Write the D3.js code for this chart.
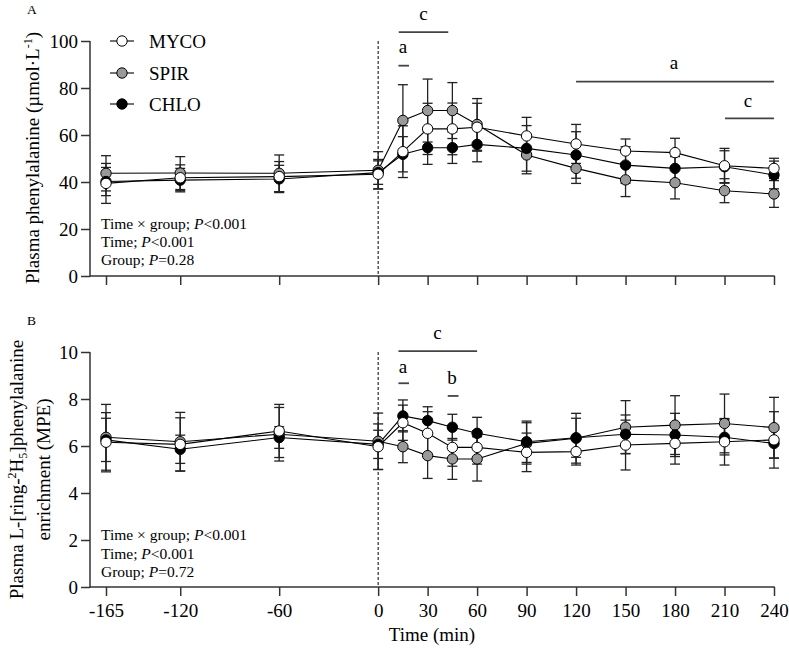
<!DOCTYPE html>
<html><head><meta charset="utf-8">
<script src="https://cdn.jsdelivr.net/npm/d3@7"></script>
<style>
html,body{margin:0;padding:0;background:#fff;}
svg text{font-family:"Liberation Serif","Times New Roman",serif;fill:#000;}
</style></head>
<body><svg id="chart" width="789" height="648"></svg>
<script>
// ---------- DATA ----------
const times = [-165,-120,-60,0,15,30,45,60,90,120,150,180,210,240];
const xTicks = [-165,-120,-60,0,30,60,90,120,150,180,210,240];
const groups = ["MYCO","SPIR","CHLO"];
const groupFill = {MYCO:"#ffffff", SPIR:"#999999", CHLO:"#000000"};

// Panel A: plasma phenylalanine (µmol/L), mean and SEM
const pheMYCO    = [39.4,41.8,42.3,43.3,52.9,62.6,62.6,63.3,59.6,56.2,53.2,52.5,46.9,45.8];
const pheMYCOsem = [8.5,5.5,6.4,6.3,11.0,10.9,11.0,10.2,7.9,8.3,5.1,6.1,7.4,4.3];
const pheSPIR    = [43.7,43.8,43.7,45.0,66.2,70.4,70.4,64.5,51.5,45.8,40.9,39.7,36.3,34.9];
const pheSPIRsem = [7.5,7.0,7.8,7.9,15.2,13.4,11.9,11.0,8.0,6.4,7.1,6.9,5.1,5.7];
const pheCHLO    = [40.2,40.8,41.3,44.0,51.8,54.6,54.6,56.0,54.3,51.5,47.2,45.8,46.5,43.0];
const pheCHLOsem = [6.0,5.0,5.8,5.0,7.5,7.1,6.7,7.4,9.7,9.9,7.8,5.0,6.8,5.9];

// Panel B: plasma L-[ring-2H5]phenylalanine enrichment (MPE)
const enrMYCO    = [6.16,6.07,6.64,5.97,6.99,6.54,5.94,5.94,5.73,5.76,6.04,6.11,6.18,6.26];
const enrMYCOsem = [1.26,1.13,1.13,0.97,0.75,0.92,0.80,0.71,0.82,0.57,1.06,0.88,0.99,1.20];
const enrSPIR    = [6.37,6.18,6.50,6.20,5.97,5.59,5.45,5.45,6.11,6.33,6.80,6.89,6.96,6.78];
const enrSPIRsem = [1.40,1.25,1.14,1.20,0.68,0.97,0.87,0.94,0.88,1.06,1.13,1.25,1.25,1.29];
const enrCHLO    = [6.26,5.86,6.36,6.07,7.28,7.08,6.80,6.54,6.18,6.35,6.50,6.47,6.37,6.11];
const enrCHLOsem = [0.92,0.60,0.46,0.60,0.68,0.59,0.55,0.68,0.88,0.83,0.82,0.92,0.75,0.63];

const yTicksA = [0,20,40,60,80,100];
const yTicksB = [0,2,4,6,8,10];

// significance annotations: [x1, x2, yLine, label, xText, yText]
const annotA = [
  [12.5,42.5,103.8,"c",27.5,108.9],
  [12.3,18.7,89.5,"a",15,94.8],
  [120,240,82.7,"a",179.4,88.0],
  [210.3,240,67.1,"c",224.2,71.8]
];
const annotB = [
  [12.3,60,10.04,"c",36,10.54],
  [12.3,18.7,8.67,"a",15,9.12],
  [42.2,48.7,8.13,"b",44.8,8.63]
];
const statsA = ["Time × group; |P|<0.001","Time; |P|<0.001","Group; |P|=0.28"];
const statsB = ["Time × group; |P|<0.001","Time; |P|<0.001","Group; |P|=0.72"];

// ---------- LAYOUT ----------
const svg = d3.select("#chart");
const axisX = 90, xEnd = 774;
const x = d3.scaleLinear().domain([-165,240]).range([106,774]);
const panels = [
  {y: d3.scaleLinear().domain([0,100]).range([276,41]), ticks: yTicksA, labels:false,
   data:{MYCO:[pheMYCO,pheMYCOsem],SPIR:[pheSPIR,pheSPIRsem],CHLO:[pheCHLO,pheCHLOsem]},
   annot: annotA, stats: statsA, statsY:[229,247,265], letter:"A", letterY:14},
  {y: d3.scaleLinear().domain([0,10]).range([587,352]), ticks: yTicksB, labels:true,
   data:{MYCO:[enrMYCO,enrMYCOsem],SPIR:[enrSPIR,enrSPIRsem],CHLO:[enrCHLO,enrCHLOsem]},
   annot: annotB, stats: statsB, statsY:[540,558.5,577], letter:"B", letterY:325}
];
const axisColor = "#333";

panels.forEach(p => {
  const g = svg.append("g");
  const [y0, y1] = p.y.range();
  // y axis
  const ya = g.append("g").attr("transform",`translate(${axisX},0)`)
    .call(d3.axisLeft(p.y).tickValues(p.ticks).tickFormat(d=>String(d)).tickSize(9).tickPadding(3).tickSizeOuter(0));
  ya.select(".domain").remove();
  ya.selectAll("line").attr("stroke",axisColor).attr("stroke-width",1.5);
  ya.selectAll("text").attr("font-size",19).attr("font-family","Liberation Serif");
  g.append("line").attr("x1",axisX).attr("x2",axisX).attr("y1",y1).attr("y2",y0+0.75)
    .attr("stroke",axisColor).attr("stroke-width",1.5);
  // x axis
  const xa = g.append("g").attr("transform",`translate(0,${y0})`)
    .call(d3.axisBottom(x).tickValues(xTicks).tickFormat(d=>String(d)).tickSize(9).tickPadding(7.5).tickSizeOuter(0));
  xa.select(".domain").remove();
  xa.selectAll("line").attr("stroke",axisColor).attr("stroke-width",1.5);
  if (p.labels) xa.selectAll("text").attr("font-size",19).attr("font-family","Liberation Serif");
  else xa.selectAll("text").remove();
  g.append("line").attr("x1",axisX).attr("x2",xEnd+0.75).attr("y1",y0).attr("y2",y0)
    .attr("stroke",axisColor).attr("stroke-width",1.5);
  // dashed line at 0
  g.append("line").attr("x1",x(0)).attr("x2",x(0)).attr("y1",y1).attr("y2",y0)
    .attr("stroke","#000").attr("stroke-width",1).attr("stroke-dasharray","3,2");

  // series: draw SPIR, CHLO, then MYCO on top
  const order = ["SPIR","CHLO","MYCO"];
  order.forEach(name => {
    const [m, s] = p.data[name];
    const pts = times.map((t,i)=>({t, m:m[i], s:s[i]}));
    const eb = g.append("g").attr("stroke","#222").attr("stroke-width",1.3);
    pts.forEach(d => {
      eb.append("line").attr("x1",x(d.t)).attr("x2",x(d.t)).attr("y1",p.y(d.m+d.s)).attr("y2",p.y(d.m-d.s));
      [d.m+d.s, d.m-d.s].forEach(v => eb.append("line").attr("x1",x(d.t)-5).attr("x2",x(d.t)+5)
        .attr("y1",p.y(v)).attr("y2",p.y(v)));
    });
  });
  order.forEach(name => {
    const [m] = p.data[name];
    const pts = times.map((t,i)=>({t, m:m[i]}));
    g.append("path").datum(pts).attr("fill","none").attr("stroke","#000").attr("stroke-width",1.1)
      .attr("d", d3.line().x(d=>x(d.t)).y(d=>p.y(d.m)));
  });
  order.forEach(name => {
    const [m] = p.data[name];
    const pts = times.map((t,i)=>({t, m:m[i]}));
    g.selectAll(null).data(pts).enter().append("circle")
      .attr("cx",d=>x(d.t)).attr("cy",d=>p.y(d.m)).attr("r",5.2)
      .attr("fill",groupFill[name]).attr("stroke","#000").attr("stroke-width",1);
  });

  // annotations
  p.annot.forEach(a => {
    g.append("line").attr("x1",x(a[0])).attr("x2",x(a[1])).attr("y1",p.y(a[2])).attr("y2",p.y(a[2]))
      .attr("stroke","#444").attr("stroke-width",1.8);
    g.append("text").attr("x",x(a[4])).attr("y",p.y(a[5])).attr("text-anchor","middle")
      .attr("font-size",19).text(a[3]);
  });

  // stats text
  p.stats.forEach((s,i) => {
    const t = g.append("text").attr("x",101).attr("y",p.statsY[i]).attr("font-size",15.5);
    s.split("|").forEach((part,j) => {
      t.append("tspan").attr("font-style", j===1 ? "italic" : "normal").text(part);
    });
  });

  // panel letter
  g.append("text").attr("x",27).attr("y",p.letterY).attr("font-size",13.5).text(p.letter);
});

// Y axis titles
const tA = svg.append("text").attr("transform","translate(39,158) rotate(-90)")
  .attr("text-anchor","middle").attr("font-size",19);
tA.append("tspan").text("Plasma phenylalanine (µmol·L");
tA.append("tspan").attr("font-size",12).attr("dy",-7).text("-1");
tA.append("tspan").attr("dy",7).text(")");

const tB1 = svg.append("text").attr("transform","translate(23,469.5) rotate(-90)")
  .attr("text-anchor","middle").attr("font-size",19);
tB1.append("tspan").text("Plasma L-[ring-");
tB1.append("tspan").attr("font-size",12).attr("dy",-7).text("2");
tB1.append("tspan").attr("dy",7).text("H");
tB1.append("tspan").attr("font-size",12).attr("dy",4).text("5");
tB1.append("tspan").attr("dy",-4).text("]phenylalanine");
svg.append("text").attr("transform","translate(50,469.5) rotate(-90)")
  .attr("text-anchor","middle").attr("font-size",19).text("enrichment (MPE)");

// X axis title
svg.append("text").attr("x",432).attr("y",640.5).attr("text-anchor","middle")
  .attr("font-size",19).text("Time (min)");

// legend
const legendRows = [41,73,104];
groups.forEach((name,i) => {
  const ly = legendRows[i];
  svg.append("line").attr("x1",110).attr("x2",134).attr("y1",ly).attr("y2",ly)
    .attr("stroke","#000").attr("stroke-width",1.1);
  svg.append("circle").attr("cx",122).attr("cy",ly).attr("r",5.2)
    .attr("fill",groupFill[name]).attr("stroke","#000").attr("stroke-width",1);
  svg.append("text").attr("x",149).attr("y",ly+6.5).attr("font-size",19).text(name);
});
</script></body></html>
